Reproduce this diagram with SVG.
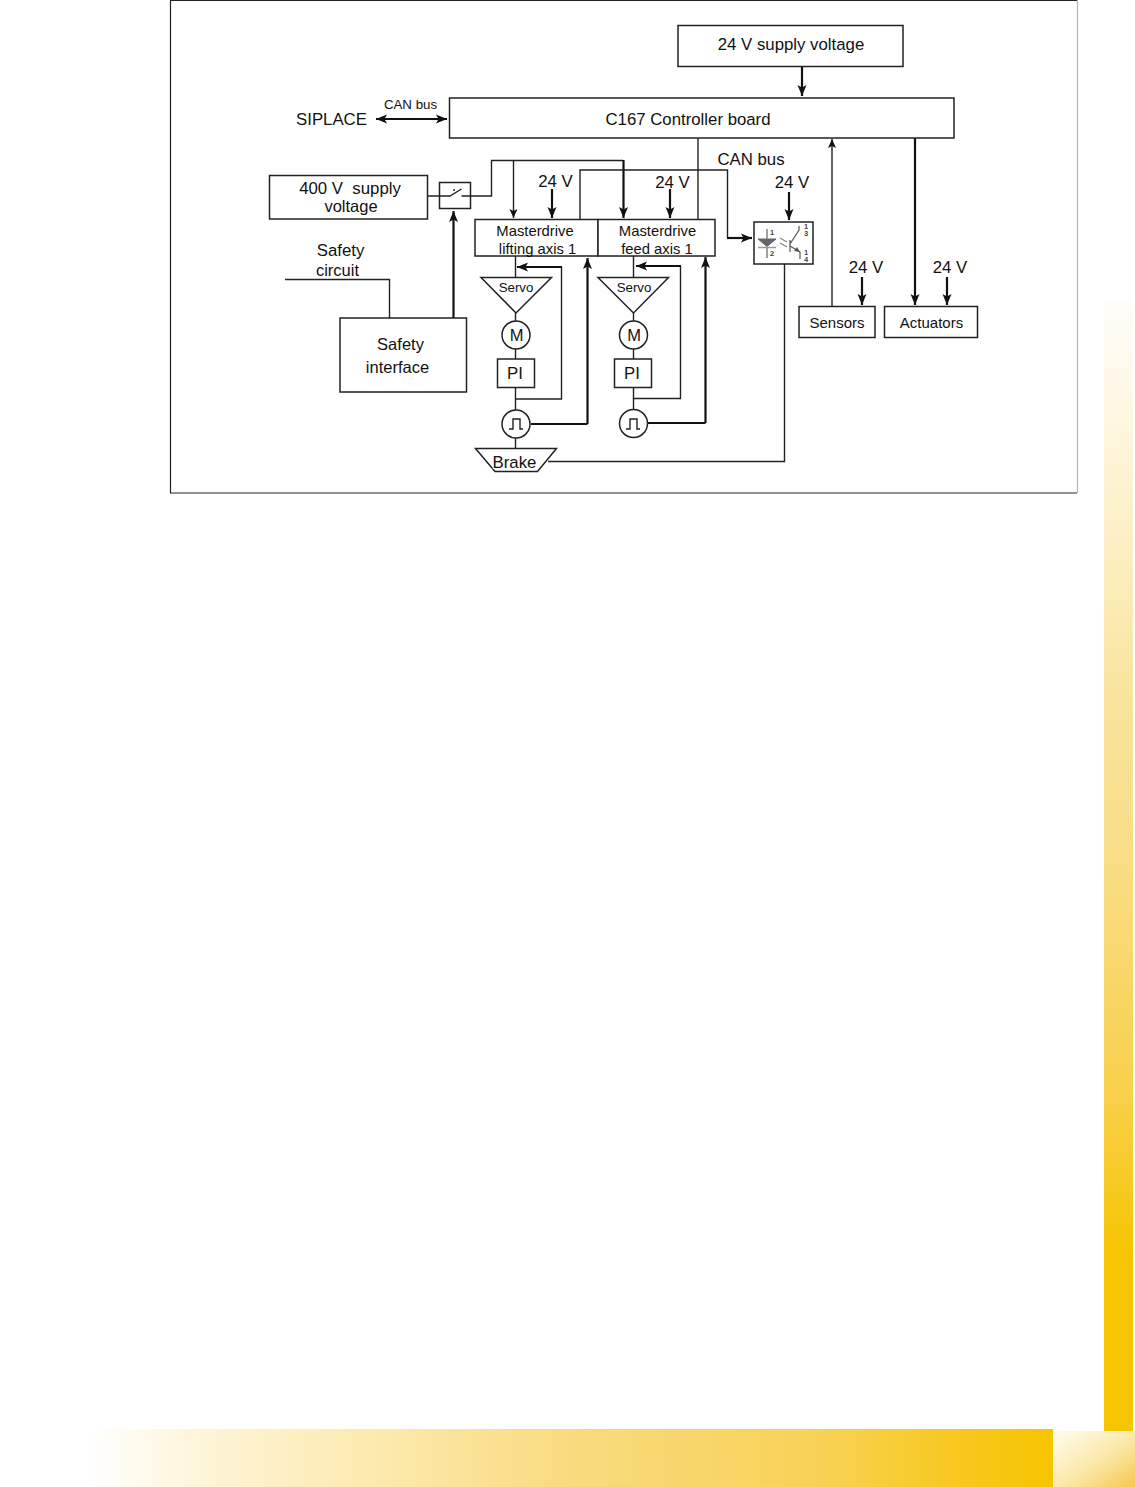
<svg xmlns="http://www.w3.org/2000/svg" width="1135" height="1487" viewBox="0 0 1135 1487">
<style>
text{font-family:"Liberation Sans",Arial,sans-serif;fill:#111;text-anchor:middle}
.b{fill:#fff;stroke:#222;stroke-width:1.5}
.w{fill:none;stroke:#222;stroke-width:1.4}
.t{fill:none;stroke:#111;stroke-width:2.2}
.a{fill:none;stroke:#222;stroke-width:1.4;marker-end:url(#ah)}
.h{fill:none;stroke:#111;stroke-width:2.2;marker-end:url(#ah2)}
.f17{font-size:16.800px}.f16{font-size:16.500px}.f15{font-size:15px}.f14{font-size:14.800px}.f13{font-size:13.300px}
.o{font-size:7.500px;font-weight:bold;fill:#444}
</style>
<defs>
<marker id="ah" markerUnits="userSpaceOnUse" markerWidth="11" markerHeight="12" refX="9" refY="5" orient="auto-start-reverse"><path d="M0 1 L9 5 L0 9 L2 5Z" fill="#111"/></marker>
<marker id="ah2" markerUnits="userSpaceOnUse" markerWidth="13" markerHeight="12" refX="11" refY="5" orient="auto-start-reverse"><path d="M0 0.500 L11 5 L0 9.500 L2.500 5Z" fill="#111"/></marker>
<linearGradient id="gb" x1="0" x2="1" y1="0" y2="0"><stop offset="0" stop-color="#fff"/><stop offset=".1" stop-color="#fef6dc"/><stop offset=".3" stop-color="#fce9ac"/><stop offset=".5" stop-color="#f9da7e"/><stop offset=".75" stop-color="#f8d258"/><stop offset=".9" stop-color="#f7c81e"/><stop offset="1" stop-color="#f6c400"/></linearGradient>
<linearGradient id="gr" x1="0" x2="0" y1="0" y2="1"><stop offset="0" stop-color="#fffdfa"/><stop offset=".2" stop-color="#fdf0c8"/><stop offset=".35" stop-color="#f8e49d"/><stop offset=".5" stop-color="#f8dd85"/><stop offset=".7" stop-color="#f8d04c"/><stop offset=".85" stop-color="#f6c400"/><stop offset="1" stop-color="#f6c400"/></linearGradient>
<linearGradient id="gc" x1="0" x2="1" y1="0" y2="1"><stop offset="0" stop-color="#fffdf0"/><stop offset=".55" stop-color="#fbe8a8"/><stop offset="1" stop-color="#f6c850"/></linearGradient>
</defs>
<g id="page-decoration">
<rect x="90" y="1429" width="963" height="58" fill="url(#gb)"/>
<rect x="1104" y="299" width="29" height="1132" fill="url(#gr)"/>
<rect x="1053" y="1431" width="82" height="56" fill="url(#gc)"/>
</g>
<g id="frame"><path d="M1077 493H170.500V0.500H1077" fill="none" stroke="#222" stroke-width="1.200"/><path d="M1077.500 0V493" stroke="#b5b5b5" stroke-width="1.200"/></g>
<g id="connectors">
<path class="h" d="M802 66V96"/>
<path class="h" d="M376 119H447" marker-start="url(#ah2)"/>
<path class="w" d="M698 138V219"/>
<path class="a" d="M832 306V139"/>
<path class="h" d="M915 138V305"/>
<path class="w" d="M428 196H450L461.500 189M461.500 196H491.500V160.500H623M454 189V191"/>
<path class="a" d="M513.500 160.500V218"/>
<path class="h" d="M623.500 160V218"/>
<path class="h" d="M552 189V218"/>
<path class="h" d="M670 189V218"/>
<path class="h" d="M789 192V220"/>
<path class="h" d="M862 277V305"/>
<path class="h" d="M947 277V305"/>
<path class="w" d="M580 219V170H727.500V238"/>
<path class="h" d="M727 238H752"/>
<path class="w" d="M285 279.500H389.500V318"/>
<path class="h" d="M453.500 318V211"/>
<path class="w" d="M515.500 256V277M515.500 313V322M515.500 349V359M515.500 388V410M515.500 438V448"/>
<path class="w" d="M633.500 256V277M633.500 313V322M633.500 349V359M633.500 388V410"/>
<path class="w" d="M516 399H561.500V267"/>
<path class="h" d="M562 267H517"/>
<path class="w" d="M634 398.500H680.500V266"/>
<path class="h" d="M681 266H636"/>
<path class="t" d="M531 424H587.500"/>
<path class="h" d="M587.500 424V258"/>
<path class="t" d="M648 423H705.500"/>
<path class="h" d="M705.500 423V257"/>
<path class="w" d="M548 461.500H784.500V264"/>
</g>
<g id="supply24"><rect class="b" x="678" y="25.500" width="225" height="41"/><text class="f17" x="791" y="50">24 V supply voltage</text></g>
<g id="controller"><rect class="b" x="449.500" y="98" width="504.500" height="40"/><text class="f17" x="688" y="125">C167 Controller board</text></g>
<g id="siplace"><text class="f17" x="331.500" y="125">SIPLACE</text><text class="f13" x="410.500" y="109">CAN bus</text></g>
<g id="supply400"><rect class="b" x="269.500" y="175.500" width="158" height="43.500"/><text class="f17" x="350" y="194">400 V&#160; supply</text><text class="f16" x="351" y="212">voltage</text></g>
<g id="switch"><rect x="439.500" y="182.500" width="31" height="26" fill="none" stroke="#222" stroke-width="1.500"/></g>
<g id="safety-circuit"><text class="f17" x="340.500" y="256">Safety</text><text class="f16" x="337.500" y="276">circuit</text></g>
<g id="safety-interface"><rect class="b" x="340" y="318" width="126.500" height="74"/><text class="f16" x="400.500" y="350">Safety</text><text class="f16" x="397.500" y="373">interface</text></g>
<g id="md-lift"><rect class="b" x="475" y="219.500" width="123" height="36.500"/><text class="f14" x="535" y="236">Masterdrive</text><text class="f14" x="537.500" y="254">lifting axis 1</text></g>
<g id="md-feed"><rect class="b" x="598" y="219.500" width="117" height="36.500"/><text class="f14" x="657.500" y="236">Masterdrive</text><text class="f14" x="657" y="254">feed axis 1</text></g>
<g id="labels"><text class="f17" x="555.500" y="187">24 V</text><text class="f17" x="672.500" y="188">24 V</text><text class="f17" x="792" y="188">24 V</text><text class="f17" x="866" y="273">24 V</text><text class="f17" x="950" y="273">24 V</text><text class="f17" x="751" y="165">CAN bus</text></g>
<g id="servo1"><path class="b" d="M481 277.500H551.500L516 313Z"/><text class="f13" x="516" y="292">Servo</text></g>
<g id="servo2"><path class="b" d="M598 277.500H668.500L633.500 313Z"/><text class="f13" x="634" y="292">Servo</text></g>
<g id="motor1"><circle class="b" cx="516" cy="335" r="14"/><text class="f16" x="516.500" y="341">M</text></g>
<g id="motor2"><circle class="b" cx="633.500" cy="335" r="14"/><text class="f16" x="634" y="341">M</text></g>
<g id="pi1"><rect class="b" x="497.500" y="359" width="37" height="28.500"/><text class="f17" x="515" y="379">PI</text></g>
<g id="pi2"><rect class="b" x="614.500" y="359" width="37" height="28.500"/><text class="f17" x="632" y="379">PI</text></g>
<g id="encoder1"><circle class="b" cx="516" cy="424" r="14"/><path class="w" d="M509 429H513V419H520V429H523"/></g>
<g id="encoder2"><circle class="b" cx="633.500" cy="423.500" r="14"/><path class="w" d="M626 429H630V419H637V429H640"/></g>
<g id="brake"><path class="b" d="M475.500 448.500H556.500L537.500 471.500H495Z"/><text class="f17" x="514.500" y="468" style="paint-order:stroke" stroke="#fff" stroke-width="2">Brake</text></g>
<g id="optocoupler"><rect class="b" x="754" y="222" width="59" height="42"/>
<path d="M767 229V239M767 247V258" stroke="#444" fill="none"/>
<path d="M758 239H776L767 246.500Z" fill="#666" stroke="#666"/><path d="M758 247.500H776" stroke="#999" stroke-width="1.500"/>
<path d="M790 240V252M790 244L799 230V226" fill="none" stroke="#555" stroke-width="1.200"/>
<path d="M790 246L800 252V259" fill="none" stroke="#555" stroke-width="1.200"/><path d="M800 252L794 251L797 247Z" fill="#555"/>
<path d="M780 238L787 242M780 243L787 247" stroke="#888" stroke-width="1.300" fill="none"/>
<text class="o" x="772" y="235">1</text><text class="o" x="772" y="256">2</text>
<text class="o" x="806" y="229">1</text><text class="o" x="806" y="236">3</text><text class="o" x="806" y="255">1</text><text class="o" x="806" y="262">4</text></g>
<g id="sensors"><rect class="b" x="799" y="306.500" width="76" height="31"/><text class="f15" x="837" y="328">Sensors</text></g>
<g id="actuators"><rect class="b" x="884.500" y="306.500" width="93" height="31"/><text class="f15" x="931.500" y="328">Actuators</text></g>
</svg>
